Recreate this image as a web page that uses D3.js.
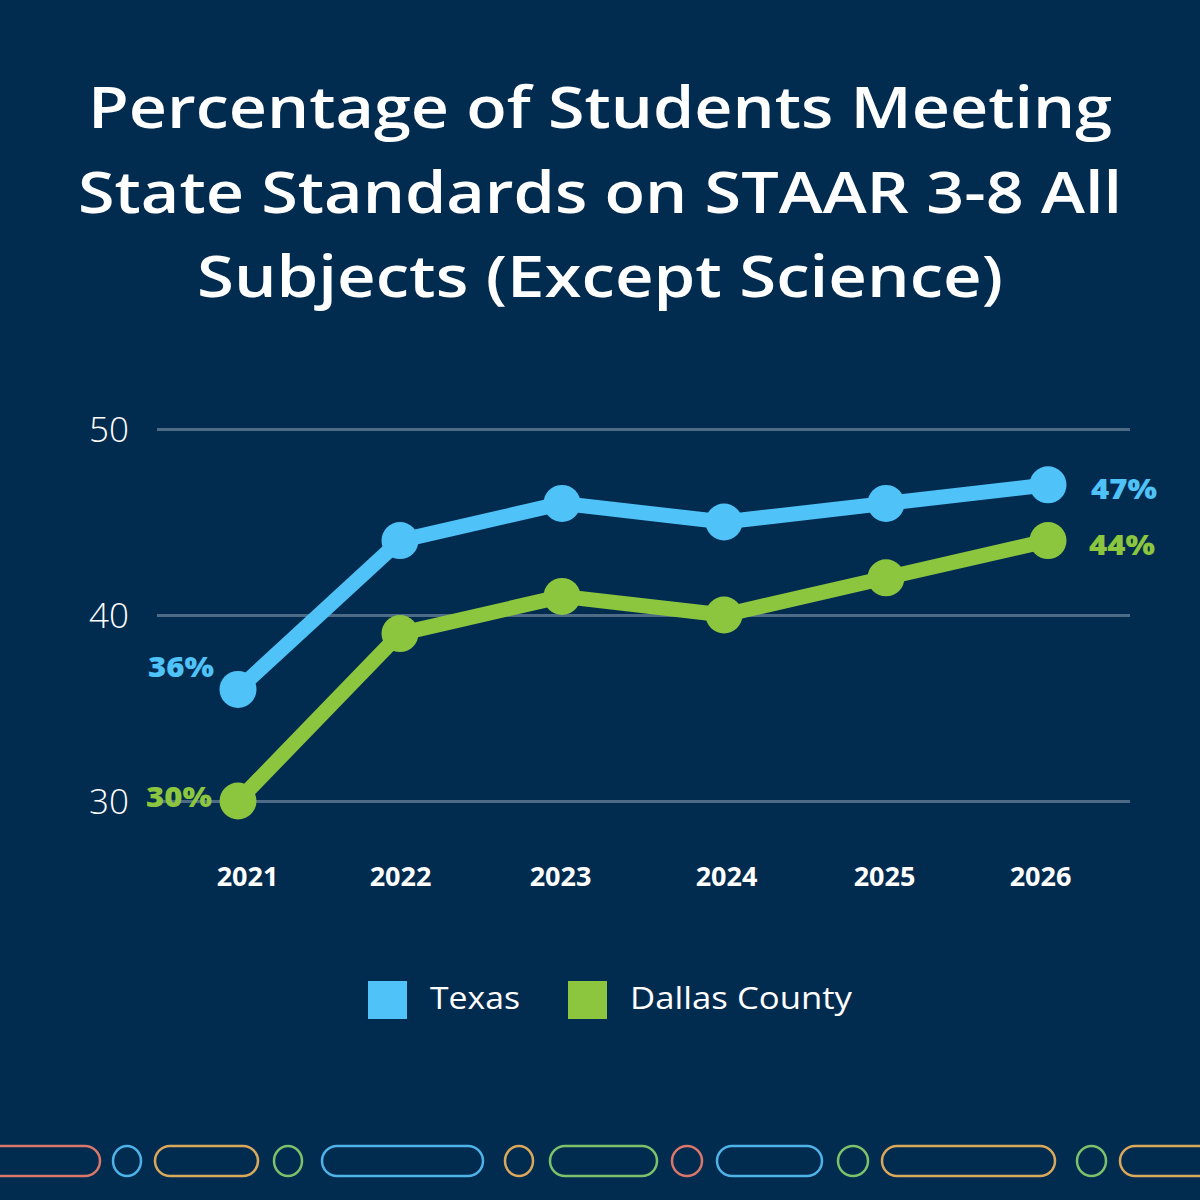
<html>
  <meta charset="utf-8">
  <head>
  <style>
    body {
      margin: 0;
      background: #022b50;
    }
    svg#target {
      display: block;
    }
  </style>
  </head>
  <body>

    <div id="chart"></div>

    <script src="https://d3js.org/d3.v7.min.js"></script>
    <script>

    'use strict';

    var years = ['2021', '2022', '2023', '2024', '2025', '2026'];
    var texas = [36, 44, 46, 45, 46, 47];
    var dallas = [30, 39, 41, 40, 42, 44];
    var yTicks = [30, 40, 50];
    var seriesNames = ['Texas', 'Dallas County'];
    var titleLines = [
      'Percentage of Students Meeting',
      'State Standards on STAAR 3-8 All',
      'Subjects (Except Science)'
    ];

    var BG = '#022b50',
        BLUE = '#4fc3f7',
        GREEN = '#8cc63f',
        GRID = '#4d6a86',
        FONT = "'Open Sans', 'DejaVu Sans', sans-serif";

    var W = 1200, H = 1200;

    var svg = d3.select('#chart').append('svg')
        .attr('id', 'target')
        .attr('width', W)
        .attr('height', H);

    svg.append('rect').attr('width', W).attr('height', H).attr('fill', BG);

    // title, three centred lines stretched to the widths in the picture
    var titleWidths = [1024, 1044, 806];
    svg.append('g').selectAll('text')
        .data(titleLines)
      .enter().append('text')
        .attr('x', 600)
        .attr('y', function(d, i) { return 128 + i * 84.5; })
        .attr('text-anchor', 'middle')
        .attr('font-family', FONT)
        .attr('font-weight', 600)
        .attr('font-size', 58)
        .attr('fill', '#ffffff')
        .attr('textLength', function(d, i) { return titleWidths[i]; })
        .attr('lengthAdjust', 'spacingAndGlyphs')
        .text(function(d) { return d; });

    var x = d3.scalePoint().domain(years).range([238, 1048]);
    var y = d3.scaleLinear().domain([30, 50]).range([801, 429]);

    // y grid + labels
    var yAxis = d3.axisLeft(y)
        .tickValues(yTicks)
        .tickSize(-(1130 - 157))
        .tickPadding(28);

    var gy = svg.append('g')
        .attr('transform', 'translate(157,0)')
        .call(yAxis);
    gy.select('.domain').remove();
    gy.selectAll('.tick line')
        .attr('stroke', GRID)
        .attr('stroke-width', 3);
    gy.selectAll('.tick text')
        .attr('fill', '#ffffff')
        .attr('font-family', FONT)
        .attr('font-weight', 300)
        .attr('font-size', 35)
        .attr('dy', '0.35em');

    // x labels (small nudges to sit where the picture has them)
    var xNudge = [9, 0, -2, 2, -2, -8];
    var xAxis = d3.axisBottom(x).tickSize(0).tickPadding(0);
    var gx = svg.append('g')
        .attr('transform', 'translate(0,886)')
        .call(xAxis);
    gx.select('.domain').remove();
    gx.selectAll('.tick text')
        .attr('fill', '#ffffff')
        .attr('font-family', FONT)
        .attr('font-weight', 700)
        .attr('font-size', 27)
        .attr('dy', 0)
        .attr('x', function(d, i) { return xNudge[i]; });

    var line = d3.line()
        .x(function(d, i) { return x(years[i]); })
        .y(function(d) { return y(d); });

    function drawSeries(values, colour) {
      var g = svg.append('g');
      g.append('path')
          .datum(values)
          .attr('d', line)
          .attr('fill', 'none')
          .attr('stroke', colour)
          .attr('stroke-width', 15)
          .attr('stroke-linejoin', 'round');
      g.selectAll('circle')
          .data(values)
        .enter().append('circle')
          .attr('cx', function(d, i) { return x(years[i]); })
          .attr('cy', function(d) { return y(d); })
          .attr('r', 18.5)
          .attr('fill', colour);
    }

    drawSeries(dallas, GREEN);
    drawSeries(texas, BLUE);

    // end labels
    function endLabel(v, xpos, ypos, anchor, colour) {
      svg.append('text')
          .attr('x', xpos)
          .attr('y', ypos)
          .attr('text-anchor', anchor)
          .attr('font-family', FONT)
          .attr('font-weight', 800)
          .attr('font-size', 28)
          .attr('fill', colour)
          .attr('textLength', 66)
          .attr('lengthAdjust', 'spacingAndGlyphs')
          .text(v + '%');
    }
    var last = years.length - 1;
    endLabel(texas[0], 214, y(texas[0]) - 12, 'end', BLUE);
    endLabel(dallas[0], 212, y(dallas[0]) + 6, 'end', GREEN);
    endLabel(texas[last], 1091, y(texas[last]) + 14, 'start', BLUE);
    endLabel(dallas[last], 1089, y(dallas[last]) + 14, 'start', GREEN);

    // legend
    var legendX = [368, 568];
    var legendTextW = [90, 222];
    var legend = svg.append('g').selectAll('g')
        .data(seriesNames)
      .enter().append('g')
        .attr('transform', function(d, i) { return 'translate(' + legendX[i] + ',981)'; });
    legend.append('rect')
        .attr('width', 39)
        .attr('height', 38)
        .attr('fill', function(d, i) { return i === 0 ? BLUE : GREEN; });
    legend.append('text')
        .attr('x', 62)
        .attr('y', 28)
        .attr('font-family', FONT)
        .attr('font-size', 31)
        .attr('fill', '#ffffff')
        .attr('textLength', function(d, i) { return legendTextW[i]; })
        .attr('lengthAdjust', 'spacingAndGlyphs')
        .text(function(d) { return d; });

    // decorative strip of pills and rings along the bottom
    var strip = [
      [-40, 100, '#d9776b'], [113, 141, '#4fb3e8'], [155, 258, '#d9a85a'],
      [274, 302, '#7cc26a'], [322, 483, '#4fb3e8'], [505, 533, '#d9a85a'],
      [550, 657, '#7cc26a'], [672, 702, '#d9776b'], [717, 822, '#4fb3e8'],
      [838, 868, '#7cc26a'], [882, 1055, '#d9a85a'], [1077, 1106, '#7cc26a'],
      [1120, 1260, '#d9a85a']
    ];
    svg.append('g').selectAll('rect')
        .data(strip)
      .enter().append('rect')
        .attr('x', function(d) { return d[0]; })
        .attr('y', 1146)
        .attr('width', function(d) { return d[1] - d[0]; })
        .attr('height', 30)
        .attr('rx', function(d) { return Math.min(15, (d[1] - d[0]) / 2); })
        .attr('ry', 15)
        .attr('fill', 'none')
        .attr('stroke', function(d) { return d[2]; })
        .attr('stroke-width', 2.5);

    </script>
  </body>
</html>
